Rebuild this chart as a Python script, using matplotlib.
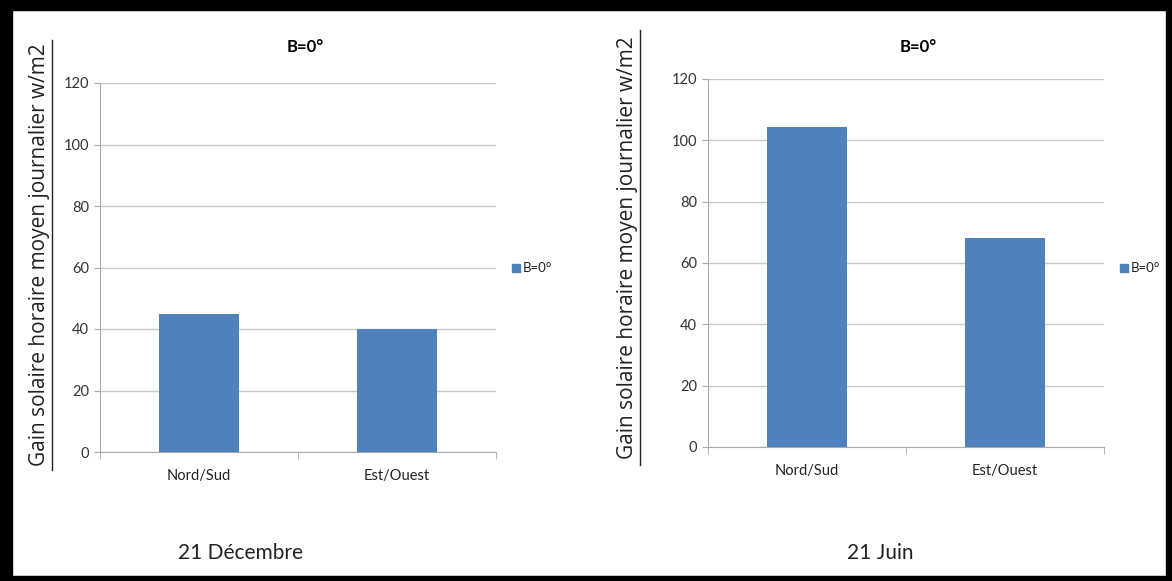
import matplotlib.pyplot as plt
from matplotlib.patches import Rectangle
from matplotlib.lines import Line2D

# data
categories = ['Nord/Sud', 'Est/Ouest']
decembre = [45, 40]
juin = [104.5, 68]
yticks = [0, 20, 40, 60, 80, 100, 120]
series_name = 'B=0°'
ylabel = 'Gain solaire horaire moyen journalier w/m2'
dates = ['21 Décembre', '21 Juin']

bar_color = '#4F81BD'
grid_color = '#c8c8c8'
tick_font = ['Lato', 'DejaVu Sans']

fig = plt.figure(figsize=(11.72, 5.81), dpi=100)

W, H = 1172, 581


def fx(px):
    return px / W


def fy(py):
    return 1 - py / H


def panel(rect, values, title_xy, legend_xy, label_x, label_span, date_xy, date_text):
    ax = fig.add_axes(rect)
    x = list(range(len(categories)))
    ax.bar(x, values, width=0.4, color=bar_color, zorder=3)
    ax.set_xlim(-0.5, len(categories) - 0.5)
    ax.set_ylim(0, 120)
    ax.set_yticks(yticks)
    ax.set_yticklabels([str(t) for t in yticks], family=tick_font, fontsize=10.5, color='#333333')
    ax.set_xticks(x)
    ax.set_xticklabels(categories, family=tick_font, fontsize=10.5, color='#222222')
    ax.set_xticks([-0.5, 0.5, 1.5], minor=True)
    ax.tick_params(axis='x', which='major', length=0, pad=12)
    ax.tick_params(axis='x', which='minor', length=5, color='#aaaaaa', direction='out')
    ax.tick_params(axis='y', length=4, color='#aaaaaa', pad=4)
    ax.grid(axis='y', color=grid_color, linewidth=1, zorder=0)
    for s in ['top', 'right']:
        ax.spines[s].set_visible(False)
    ax.spines['left'].set_color('#aaaaaa')
    ax.spines['bottom'].set_color('#aaaaaa')

    fig.text(fx(title_xy[0]), fy(title_xy[1]), series_name, ha='center', va='center',
             family=tick_font, fontsize=12, fontweight='bold')

    # legend: small square plus text
    fig.patches.append(Rectangle((fx(legend_xy[0]), fy(legend_xy[1] + 4)), fx(8), 8 / H,
                                 transform=fig.transFigure, color=bar_color))
    fig.text(fx(legend_xy[0] + 11), fy(legend_xy[1]), series_name, ha='left', va='center',
             family=tick_font, fontsize=9.5, color='#222222')

    # underlined y label
    yc = (label_span[0] + label_span[1]) / 2
    fig.text(fx(label_x), fy(yc), ylabel, rotation=90, ha='center', va='center',
             family=['Open Sans', 'DejaVu Sans'], fontsize=15, color='#222222')
    fig.lines.append(Line2D([fx(label_x + 12), fx(label_x + 12)],
                            [fy(label_span[0]), fy(label_span[1])],
                            transform=fig.transFigure, color='#222222', linewidth=1))

    fig.text(fx(date_xy[0]), fy(date_xy[1]), date_text, ha='center', va='center',
             family=tick_font, fontsize=15, color='#222222')
    return ax


panel([fx(100), fy(452), fx(396), (452 - 83) / H], decembre, (305, 47), (512, 268),
      40, (470, 40), (240, 553), dates[0])
panel([fx(708), fy(447), fx(396), (447 - 79) / H], juin, (918, 47), (1120, 268),
      628, (465, 30), (880, 553), dates[1])

# black frame round the whole picture
frame = [(0, 0, 12, H), (0, 0, W, 10), (0, H - 5, W, 5), (W - 6, 0, 6, H)]
for (x0, y0, w, h) in frame:
    fig.patches.append(Rectangle((fx(x0), fy(y0 + h)), fx(w), h / H,
                                 transform=fig.transFigure, color='black', zorder=10))

fig.savefig('out.png', dpi=100)
